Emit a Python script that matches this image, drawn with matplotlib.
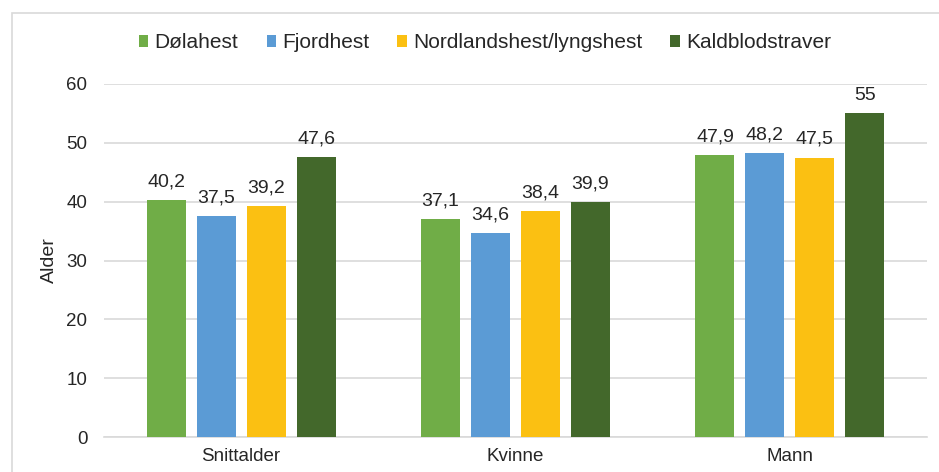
import matplotlib
matplotlib.use("Agg")
import matplotlib.pyplot as plt
from matplotlib.patches import Rectangle
import numpy as np

categories = ["Snittalder", "Kvinne", "Mann"]
series_names = ["Dølahest", "Fjordhest", "Nordlandshest/lyngshest", "Kaldblodstraver"]
dolahest = [40.2, 37.1, 47.9]
fjordhest = [37.5, 34.6, 48.2]
nordland = [39.2, 38.4, 47.5]
kaldblod = [47.6, 39.9, 55]
colors = ["#70AD47", "#5B9BD5", "#FBC012", "#43682B"]
yticks = [0, 10, 20, 30, 40, 50, 60]

plt.rcParams['font.family'] = ['Liberation Sans', 'DejaVu Sans']

W, H = 939, 472
fig = plt.figure(figsize=(W / 100, H / 100), dpi=100)
# outer chart border
fig.patches.append(Rectangle((12 / W, 0 - 0.1), 1.2, 1 - 13 / H + 0.1,
                             transform=fig.transFigure, fill=False,
                             edgecolor="#D9D9D9", linewidth=1.2))

left, right = 104 / W, 927 / W
bottom, top = 1 - 437 / H, 1 - 84 / H
ax = fig.add_axes([left, bottom, right - left, top - bottom])

x = np.arange(len(categories))
bw = 0.142
step = 0.182
allvals = [dolahest, fjordhest, nordland, kaldblod]
for i, (name, vals) in enumerate(zip(series_names, allvals)):
    off = (i - 1.5) * step
    bars = ax.bar(x + off, vals, width=bw, color=colors[i], label=name, zorder=3)
    for b, v in zip(bars, vals):
        txt = f"{v:g}".replace(".", ",")
        ax.annotate(txt, (b.get_x() + b.get_width() / 2, v), xytext=(0, 7),
                    textcoords="offset points", ha="center", va="bottom",
                    fontsize=14, color="#262626")

ax.set_xlim(-0.5, 2.5)
ax.set_ylim(0, 60)
ax.set_yticks(yticks)
ax.set_xticks(x)
ax.set_xticklabels(categories)
ax.grid(axis="y", color="#D9D9D9", linewidth=1.2, zorder=0)
for s in ["top", "right", "left"]:
    ax.spines[s].set_visible(False)
ax.spines["bottom"].set_color("#D9D9D9")
ax.spines["bottom"].set_linewidth(1.2)
ax.tick_params(axis="both", length=0, labelsize=13.5, colors="#262626")
ax.tick_params(axis="x", pad=8)
ax.tick_params(axis="y", pad=12)
ax.set_ylabel("Alder", fontsize=14, color="#262626", labelpad=6)

leg = fig.legend(loc="center", bbox_to_anchor=(485 / W, 1 - 43 / H), ncol=4,
                 frameon=False, fontsize=15, handlelength=0.45, handleheight=0.45,
                 handletextpad=0.3, columnspacing=1.35)
for t in leg.get_texts():
    t.set_color("#262626")

fig.savefig("out.png", dpi=100)
